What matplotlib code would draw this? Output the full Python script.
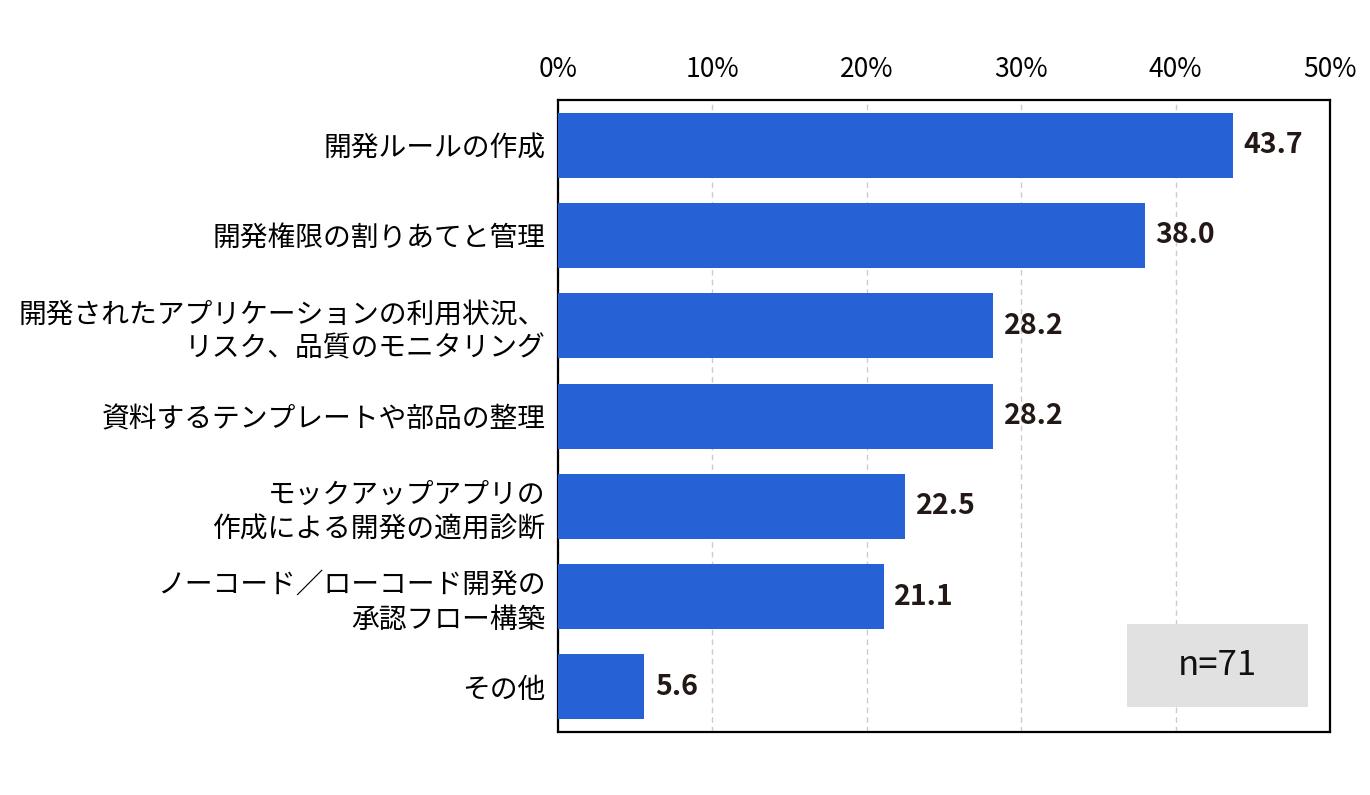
import matplotlib
matplotlib.use("Agg")
import matplotlib.pyplot as plt
from matplotlib.patches import Rectangle

plt.rcParams['font.family'] = ['Noto Sans CJK JP', 'DejaVu Sans']

categories = [
    "開発ルールの作成",
    "開発権限の割りあてと管理",
    "開発されたアプリケーションの利用状況、\nリスク、品質のモニタリング",
    "資料するテンプレートや部品の整理",
    "モックアップアプリの\n作成による開発の適用診断",
    "ノーコード／ローコード開発の\n承認フロー構築",
    "その他",
]
values = [43.7, 38.0, 28.2, 28.2, 22.5, 21.1, 5.6]
xticks = [0, 10, 20, 30, 40, 50]
xtick_labels = ["0%", "10%", "20%", "30%", "40%", "50%"]
n_label = "n=71"

fig = plt.figure(figsize=(13.7, 7.95), dpi=100)
ax = fig.add_axes([0.4073, 0.0792, 0.9708 - 0.4073, 0.8742 - 0.0792])

y = list(range(len(categories)))
ax.barh(y, values, height=0.72, color='#2662d5', zorder=3)

ax.set_xlim(0, 50)
ax.set_ylim(len(categories) - 0.5, -0.5)

ax.set_xticks(xticks)
ax.set_xticklabels(xtick_labels, fontsize=19)
ax.xaxis.tick_top()
ax.tick_params(axis='x', length=0, pad=12)
ax.set_yticks(y)
ax.set_yticklabels(categories, fontsize=20, linespacing=1.2)
ax.tick_params(axis='y', length=0, pad=9)

ax.grid(axis='x', color='#cccccc', linestyle=(0, (4, 3)), linewidth=1.0, zorder=0)
ax.grid(axis='y', visible=False)
for sp in ax.spines.values():
    sp.set_color('black')
    sp.set_linewidth(1.6)

for yi, v in zip(y, values):
    ax.annotate(f"{v:.1f}", xy=(v, yi), xytext=(7.5, 0), textcoords='offset points',
                ha='left', va='center', fontsize=20.5, fontweight='bold', color='#231815')

ax.add_patch(Rectangle((0.737, 0.040), 0.234, 0.131, transform=ax.transAxes,
                       facecolor='#e1e1e1', edgecolor='none', zorder=4))
ax.text(0.854, 0.1055, n_label, transform=ax.transAxes, ha='center', va='center',
        fontsize=25, color='#111111', zorder=5)

fig.savefig("out.png", dpi=100)
